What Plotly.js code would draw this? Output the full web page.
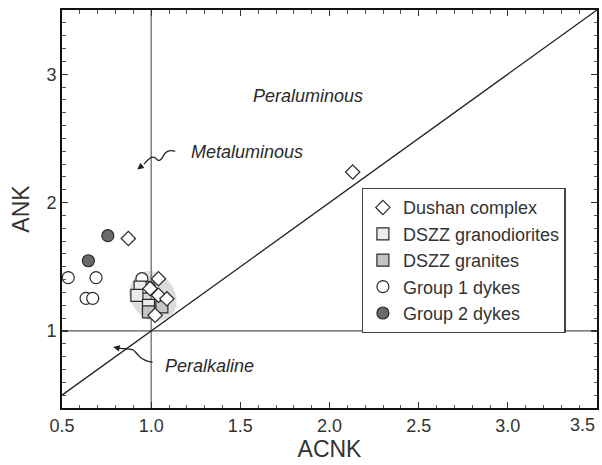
<!DOCTYPE html>
<html>
<head>
<meta charset="utf-8">
<script src="https://cdn.plot.ly/plotly-3.0.1.min.js"></script>
<style>html,body{margin:0;padding:0;background:#fff;}#chart{width:602px;height:465px;}</style>
</head>
<body>
<div id="chart"></div>
<script>
// ---- data ----
const dushanX = [2.13, 0.872, 1.041, 0.994, 1.041, 1.088, 1.022];
const dushanY = [2.238, 1.72, 1.407, 1.33, 1.278, 1.25, 1.122];

const granodioriteX = [0.938, 0.92, 0.985];
const granodioriteY = [1.342, 1.278, 1.2];

const graniteX = [1.06, 0.985];
const graniteY = [1.187, 1.148];

const group1X = [0.535, 0.691, 0.635, 0.672, 0.948, 0.99];
const group1Y = [1.415, 1.415, 1.254, 1.254, 1.407, 1.34];

const group2X = [0.757, 0.648];
const group2Y = [1.742, 1.547];

// shaded field around the cluster
const fieldX = [0.899, 0.930, 0.985, 1.045, 1.100, 1.135, 1.132, 1.090, 1.020, 0.955, 0.905, 0.878, 0.899];
const fieldY = [1.390, 1.440, 1.462, 1.440, 1.380, 1.280, 1.170, 1.105, 1.080, 1.110, 1.190, 1.300, 1.390];

// reference lines
const vLineX = [1.0, 1.0], vLineY = [0.4, 3.5];
const hLineX = [0.5, 3.5], hLineY = [1.0, 1.0];
const dLineX = [0.5, 3.5], dLineY = [0.5, 3.5];

// axis ticks (the last x label is drawn as an annotation so it stays inside the page)
const xTickVals = [0.5, 1.0, 1.5, 2.0, 2.5, 3.0, 3.5];
const xTickText = ['0.5', '1.0', '1.5', '2.0', '2.5', '3.0', ''];
const xLastTick = 3.5, xLastTickText = '3.5';
const yTickVals = [1, 2, 3];
const yTickText = ['1', '2', '3'];

// field labels
const labelText = ["Peraluminous", "Metaluminous", "Peralkaline"];
const labelX = [1.882, 1.535, 1.325];
const labelY = [2.83, 2.394, 0.727];

// squiggly arrows
const metaArrowX = [1.135, 1.107, 1.079, 1.060, 1.041, 1.022, 1.004, 0.960];
const metaArrowY = [2.400, 2.405, 2.387, 2.344, 2.328, 2.349, 2.354, 2.300];
const metaHead = [0.922, 2.258];
const alkArrowX = [1.008, 0.978, 0.944, 0.921, 0.899, 0.860, 0.815];
const alkArrowY = [0.758, 0.766, 0.789, 0.821, 0.852, 0.860, 0.867];
const alkHead = [0.787, 0.875];

// ---- chart ----
const FONT = 'Liberation Sans, Arial, sans-serif';
const edge = {color: '#2a2a2a', width: 1.2};
const traces = [
  {x: fieldX, y: fieldY, mode: 'lines', fill: 'toself', fillcolor: '#dcdcdc',
   line: {color: '#dcdcdc', width: 1, shape: 'spline'}, showlegend: false, hoverinfo: 'skip'},
  {x: vLineX, y: vLineY, mode: 'lines', line: {color: '#6a6a6a', width: 1.3}, showlegend: false},
  {x: hLineX, y: hLineY, mode: 'lines', line: {color: '#555', width: 1.3}, showlegend: false},
  {x: dLineX, y: dLineY, mode: 'lines', line: {color: '#222', width: 1.3}, showlegend: false},
  {x: metaArrowX, y: metaArrowY, mode: 'lines', line: {color: '#222', width: 1.3, shape: 'spline'}, showlegend: false},
  {x: alkArrowX, y: alkArrowY, mode: 'lines', line: {color: '#222', width: 1.3, shape: 'spline'}, showlegend: false},
  {x: group1X, y: group1Y, mode: 'markers', name: 'Group 1 dykes', legendrank: 4,
   marker: {symbol: 'circle', size: 12, color: '#ffffff', line: edge}},
  {x: granodioriteX, y: granodioriteY, mode: 'markers', name: 'DSZZ granodiorites', legendrank: 2,
   marker: {symbol: 'square', size: 12, color: '#ececec', line: edge}},
  {x: graniteX, y: graniteY, mode: 'markers', name: 'DSZZ granites', legendrank: 3,
   marker: {symbol: 'square', size: 12, color: '#c4c4c4', line: edge}},
  {x: dushanX, y: dushanY, mode: 'markers', name: 'Dushan complex', legendrank: 1,
   marker: {symbol: 'diamond', size: 11, color: '#ffffff', line: edge}},
  {x: group2X, y: group2Y, mode: 'markers', name: 'Group 2 dykes', legendrank: 5,
   marker: {symbol: 'circle', size: 12, color: '#6a6a6a', line: edge}}
];

const annotations = labelText.map((t, i) => ({
  x: labelX[i], y: labelY[i], xref: 'x', yref: 'y', text: t, showarrow: false,
  font: {family: FONT, size: 18, color: '#2a2a2a', style: 'italic'}
}));
annotations.push({x: metaHead[0], y: metaHead[1], ax: metaArrowX[metaArrowX.length - 1], ay: metaArrowY[metaArrowY.length - 1],
  xref: 'x', yref: 'y', axref: 'x', ayref: 'y', text: '', showarrow: true, arrowhead: 2, arrowsize: 1, arrowwidth: 1.3, arrowcolor: '#222', standoff: 0});
annotations.push({x: alkHead[0], y: alkHead[1], ax: alkArrowX[alkArrowX.length - 1], ay: alkArrowY[alkArrowY.length - 1],
  xref: 'x', yref: 'y', axref: 'x', ayref: 'y', text: '', showarrow: true, arrowhead: 2, arrowsize: 1, arrowwidth: 1.3, arrowcolor: '#222', standoff: 0});
annotations.push({x: xLastTick, y: 0, xref: 'x', yref: 'paper', text: xLastTickText, showarrow: false,
  xanchor: 'right', yanchor: 'top', xshift: 0, yshift: -5, font: {family: FONT, size: 18, color: '#333'}});

const axisCommon = {
  showline: true, linecolor: '#111', linewidth: 2, mirror: 'ticks', ticks: 'inside', ticklen: 6, tickwidth: 1.3, tickcolor: '#333',
  showgrid: false, zeroline: false,
  tickfont: {family: FONT, size: 18, color: '#333'},
  minor: {ticks: 'inside', ticklen: 3.5, tickwidth: 1, tickcolor: '#555', dtick: 0.1, tick0: 0, showgrid: false}
};

const layout = {
  width: 602, height: 465,
  margin: {l: 62, r: 5, t: 10, b: 57},
  paper_bgcolor: '#fff', plot_bgcolor: '#fff',
  font: {family: FONT, color: '#333'},
  xaxis: Object.assign({}, axisCommon, {range: [0.5, 3.5], tickmode: 'array', tickvals: xTickVals, ticktext: xTickText,
    title: {text: 'ACNK', font: {family: FONT, size: 23, color: '#333'}, standoff: 4}}),
  yaxis: Object.assign({}, axisCommon, {range: [0.4, 3.5], tickmode: 'array', tickvals: yTickVals, ticktext: yTickText,
    title: {text: 'ANK', font: {family: FONT, size: 23, color: '#333'}, standoff: 10}}),
  showlegend: true,
  legend: {x: 0.56, y: 0.553, xanchor: 'left', yanchor: 'top', bgcolor: '#fff',
    bordercolor: '#444', borderwidth: 1.3, font: {family: FONT, size: 18, color: '#333'}, itemwidth: 30, tracegroupgap: 0},
  annotations: annotations
};

Plotly.newPlot('chart', traces, layout, {displayModeBar: false, staticPlot: true});
</script>
</body>
</html>
